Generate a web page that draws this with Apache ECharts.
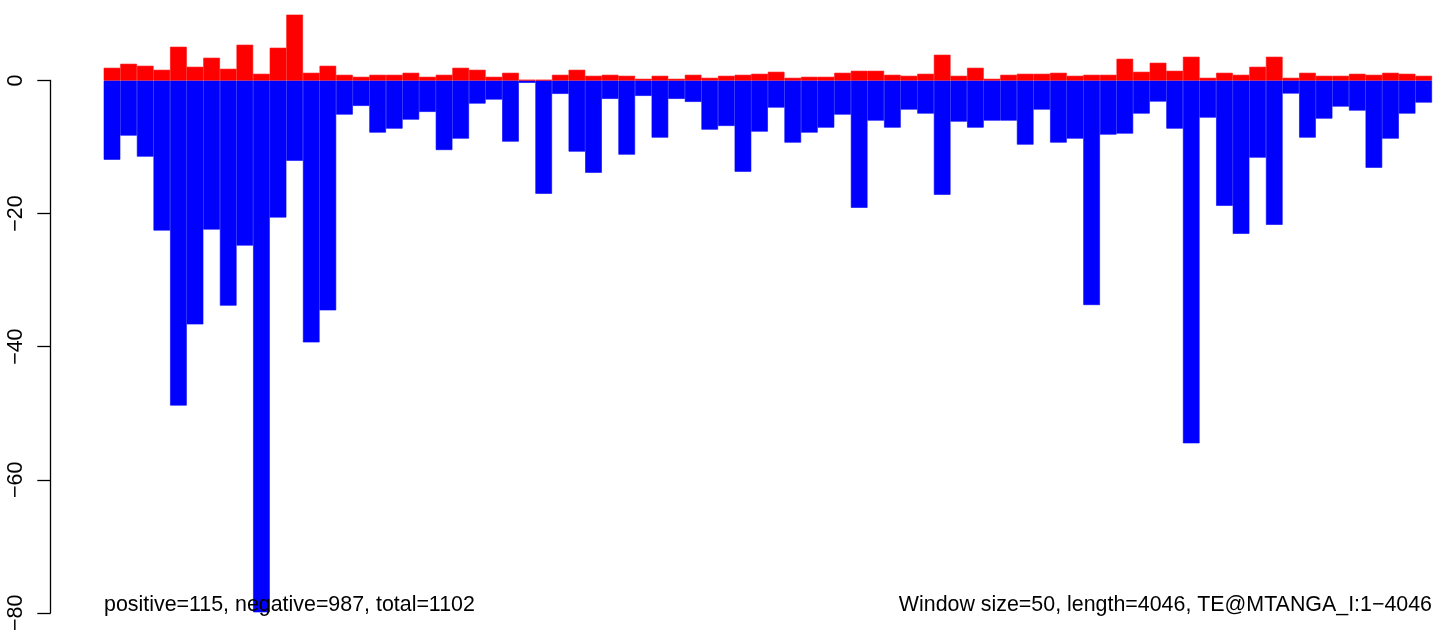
<!DOCTYPE html>
<html>
<head>
<meta charset="utf-8">
<script src="https://cdn.jsdelivr.net/npm/echarts@6/dist/echarts.min.js"></script>
<style>
html,body{margin:0;padding:0;background:#fff;}
#chart{width:1444px;height:634px;}
</style>
</head>
<body>
<div id="chart"></div>
<script>
// Window start positions (window size = 50)
var windows = [1,51,101,151,201,251,301,351,401,451,501,551,601,651,701,751,801,851,901,951,
  1001,1051,1101,1151,1201,1251,1301,1351,1401,1451,1501,1551,1601,1651,1701,1751,1801,1851,1901,1951,
  2001,2051,2101,2151,2201,2251,2301,2351,2401,2451,2501,2551,2601,2651,2701,2751,2801,2851,2901,2951,
  3001,3051,3101,3151,3201,3251,3301,3351,3401,3451,3501,3551,3601,3651,3701,3751,3801,3851,3901,3951];

// Positive (red) values per window
var positive = [1.9,2.5,2.2,1.6,5.05,2.05,3.4,1.75,5.35,1.0,4.9,9.85,1.15,2.2,0.85,
  0.55,0.85,0.85,1.15,0.55,0.85,1.9,1.6,0.55,1.15,0.1,0.1,0.85,1.6,
  0.7,0.85,0.7,0.25,0.7,0.25,0.85,0.4,0.7,0.85,1.0,1.3,0.4,0.55,
  0.55,1.15,1.45,1.45,0.85,0.7,1.0,3.85,0.7,1.9,0.25,0.85,1.0,1.0,1.15,
  0.7,0.85,0.85,3.25,1.3,2.65,1.45,3.55,0.4,1.15,0.85,2.05,3.55,0.4,
  1.15,0.7,0.7,1.0,0.85,1.15,1.0,0.7];

// Negative (blue) values per window
var negative = [-11.85,-8.25,-11.4,-22.45,-48.65,-36.5,-22.3,-33.7,-24.7,-79.6,
  -20.5,-12.0,-39.2,-34.4,-5.1,-3.8,-7.8,-7.2,-5.85,-4.7,
  -10.4,-8.7,-3.45,-2.85,-9.15,-0.35,-16.95,-2.0,-10.65,-13.8,
  -2.75,-11.1,-2.3,-8.55,-2.75,-3.2,-7.35,-6.8,-13.65,-7.65,
  -4.05,-9.3,-7.8,-7.05,-5.1,-19.05,-6.0,-7.05,-4.35,-4.95,
  -17.1,-6.15,-7.05,-6.0,-6.0,-9.6,-4.35,-9.3,-8.7,-33.6,
  -8.1,-7.95,-4.95,-3.15,-7.2,-54.3,-5.55,-18.75,-22.95,-11.55,
  -21.6,-1.95,-8.55,-5.7,-3.9,-4.5,-13.05,-8.7,-4.95,-3.3];

var yTicks = [-80, -60, -40, -20, 0];

var leftNote = 'positive=115, negative=987, total=1102';
var rightNote = 'Window size=50, length=4046, TE@MTANGA_I:1\u22124046';

var FONT = '"Liberation Sans", Arial, Helvetica, sans-serif';
var FS = 21.4;

var chart = echarts.init(document.getElementById('chart'), null, {renderer: 'canvas'});
var option = {
  animation: false,
  backgroundColor: '#ffffff',
  grid: [
    {left: 103.7, right: 12, top: 0.33, bottom: 19},
    {left: 103.7, right: 12, top: 80.5, bottom: 19}
  ],
  xAxis: [
    {type: 'category', gridIndex: 0, data: windows, show: false, boundaryGap: true},
    {type: 'category', gridIndex: 1, data: windows, show: false, boundaryGap: true}
  ],
  yAxis: [
    {type: 'value', gridIndex: 0, min: yTicks[0], max: 12, show: false, splitLine: {show: false}},
    {
      type: 'value', gridIndex: 1, min: yTicks[0], max: yTicks[yTicks.length - 1], interval: 20,
      position: 'left', offset: 53,
      axisLine: {show: true, lineStyle: {color: '#000', width: 1.3}},
      axisTick: {show: true, length: 13.4, lineStyle: {color: '#000', width: 1.3}},
      axisLabel: {
        show: true, rotate: 90, fontSize: FS, color: '#000', fontFamily: FONT, margin: 24,
        formatter: function (v) { return String(v).replace('-', '\u2212'); }
      },
      splitLine: {show: false}
    }
  ],
  series: [
    {
      type: 'bar', xAxisIndex: 0, yAxisIndex: 0, data: negative,
      itemStyle: {color: '#0000FF', borderColor: '#0000FF', borderWidth: 0.6},
      barWidth: '100%', barGap: '-100%', barCategoryGap: '0%',
      silent: true
    },
    {
      type: 'bar', xAxisIndex: 0, yAxisIndex: 0, data: positive,
      itemStyle: {color: '#FF0000', borderColor: '#FF0000', borderWidth: 0.6},
      barWidth: '100%', barGap: '-100%', barCategoryGap: '0%',
      silent: true
    }
  ],
  graphic: [
    {
      type: 'text', x: 104, y: 605, z: 100,
      style: {text: leftNote, font: FS + 'px ' + FONT, fill: '#000', align: 'left', verticalAlign: 'middle'}
    },
    {
      type: 'text', x: 1432, y: 605, z: 100,
      style: {text: rightNote, font: FS + 'px ' + FONT, fill: '#000', align: 'right', verticalAlign: 'middle'}
    }
  ]
};
chart.setOption(option);
</script>
</body>
</html>
